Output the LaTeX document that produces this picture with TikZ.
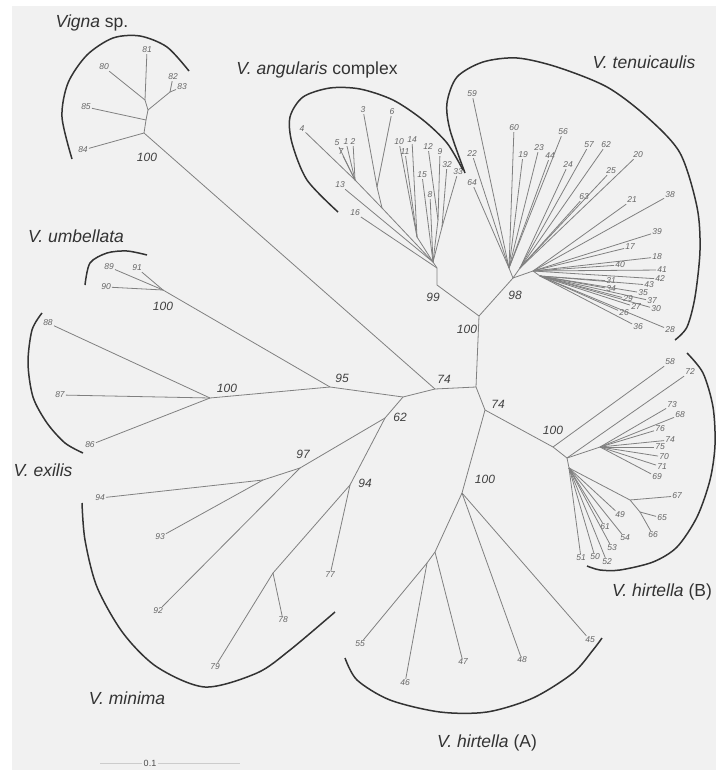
\documentclass[tikz,border=0pt]{standalone}
\usepackage{fontspec}
\setmainfont{Liberation Sans}
\definecolor{paper}{HTML}{F1F1F1}

\begin{document}
\begin{tikzpicture}[x=1pt, y=-1pt,
  branch/.style={black!50, line width=0.8pt},
  bracket/.style={black!80, line width=1.5pt},
  clade/.style={font=\fontsize{17.5}{20}\selectfont, text=black!80},
  boot/.style={font=\fontsize{12}{14}\selectfont\itshape, text=black!75},
  tip/.style={font=\fontsize{8.5}{10}\selectfont\itshape, text=black!60, inner sep=1pt}]
    \useasboundingbox (0,0) rectangle (716,770);
    \fill[white] (0,0) rectangle (716,770);
    \fill[paper] (12,6) rectangle (716,770);

    % Backbone
    \coordinate (c74) at (435,389);
    \coordinate (cR) at (476,387);
    \coordinate (c100) at (479,316);
    \coordinate (c99) at (437,285);
    \coordinate (aC) at (437,268);
    \coordinate (c98) at (513,278);
    \coordinate (cX) at (403,397);
    \coordinate (c95) at (330,387);
    \coordinate (c62) at (385,418);
    \coordinate (c97) at (300,468);
    \coordinate (cS) at (263,480);
    \coordinate (c94) at (350,485);
    \coordinate (cM) at (273,573);
    \coordinate (vig) at (144,133);
    \coordinate (umb) at (163,290);
    \coordinate (exi) at (210,398);
    \coordinate (c74b) at (485,410);
    \coordinate (hA) at (462,493);
    \coordinate (hA1) at (435,552);
    \coordinate (hA2) at (427,563);
    \coordinate (hB) at (553,447);
    \coordinate (hB2) at (567,458);
    \coordinate (hBf) at (600,447);
    \coordinate (hBd) at (569,468);
    \coordinate (hBg) at (630,500);
    \coordinate (hBh) at (640,512);

    \draw[branch] (vig) -- (c74) -- (cR) -- (c100) -- (c99) -- (aC);
    \draw[branch] (c100) -- (c98);
    \draw[branch] (c74) -- (cX) -- (c95) -- (umb);
    \draw[branch] (c95) -- (exi);
    \draw[branch] (cX) -- (c62) -- (c97) -- (cS);
    \draw[branch] (c62) -- (c94) -- (cM);
    \draw[branch] (cR) -- (c74b) -- (hA) -- (hA1) -- (hA2);
    \draw[branch] (c74b) -- (hB) -- (hB2) -- (hBf);
    \draw[branch] (hB2) -- (hBd) -- (hBg) -- (hBh);

    % Vigna sp.
    \coordinate (vig1) at (146,120);
    \coordinate (vig2) at (148,110);
    \coordinate (vig3) at (145,100);
    \coordinate (vig4) at (170,92);
    \draw[branch] (vig) -- (vig1) -- (vig2) -- (vig3);
    \draw[branch] (vig2) -- (vig4);
    \foreach \n/\x/\y/\p in {84/83/150/vig, 85/86/107/vig1, 80/104/67/vig3,
        81/147/50/vig3, 82/173/77/vig4, 83/182/87/vig4} {
      \node[tip] (lf\n) at (\x,\y) {\n};
      \draw[branch] (\p) -- (lf\n);
    }

    % V. angularis complex
    \coordinate (aB) at (433,262);
    \coordinate (a36j) at (382,208);
    \coordinate (a5j) at (355,180);
    \coordinate (a36) at (377,187);
    \coordinate (a10) at (417,237);
    \coordinate (a12) at (438,220);
    \coordinate (a32) at (442,227);
    \draw[branch] (aC) -- (aB) -- (a36j) -- (a5j);
    \draw[branch] (a36j) -- (a36);
    \draw[branch] (aB) -- (a10);
    \draw[branch] (aB) -- (a12);
    \draw[branch] (aB) -- (a32);
    \foreach \n/\x/\y/\p in {4/302/129/a5j, 5/337/143/a5j, 1/346/142/a5j,
        2/353/142/a5j, 7/341/152/a5j, 3/363/110/a36, 6/392/112/a36,
        13/340/185/aB, 16/355/213/aC, 10/399/142/a10, 14/412/140/a10,
        11/405/152/a10, 12/428/147/a12, 9/440/152/a12, 15/422/175/aB,
        8/430/195/aB, 32/447/165/a32, 33/458/172/a32} {
      \node[tip] (lf\n) at (\x,\y) {\n};
      \draw[branch] (\p) -- (lf\n);
    }

    % V. tenuicaulis
    \coordinate (t1) at (509,268);
    \coordinate (t2) at (533,271);
    \coordinate (t3) at (520,268);
    \coordinate (t4) at (540,276);
    \draw[branch] (c98) -- (t1);
    \draw[branch] (c98) -- (t3);
    \draw[branch] (c98) -- (t2) -- (t4);
    \foreach \n/\x/\y/\p in {59/472/94/t1, 60/514/128/t1, 22/472/154/t1,
        64/472/183/t1, 19/523/155/t1, 23/539/148/t1, 44/550/156/t1,
        56/563/132/t1, 24/568/165/t3, 57/589/145/t3, 62/606/145/t3,
        25/611/171/t3, 63/584/197/t3, 20/638/155/t3, 21/632/200/t2,
        38/670/195/t2, 39/657/232/t2, 17/630/247/t2, 18/657/257/t2,
        40/620/265/t2, 41/662/270/t2, 42/660/279/t2, 31/611/281/t4,
        34/611/289/t4, 43/649/285/t4, 35/643/293/t4, 29/628/299/t4,
        37/652/301/t4, 30/656/309/t4, 27/636/307/t4, 26/624/313/t4,
        36/638/327/t4, 28/670/330/t4} {
      \node[tip] (lf\n) at (\x,\y) {\n};
      \draw[branch] (\p) -- (lf\n);
    }

    % V. umbellata, V. exilis
    \foreach \n/\x/\y/\p in {89/109/267/umb, 91/137/268/umb, 90/106/287/umb,
        88/48/323/exi, 87/60/395/exi, 86/90/445/exi} {
      \node[tip] (lf\n) at (\x,\y) {\n};
      \draw[branch] (\p) -- (lf\n);
    }

    % V. minima
    \foreach \n/\x/\y/\p in {94/100/498/cS, 93/160/537/cS, 92/158/611/c97,
        77/330/575/c94, 78/283/620/cM, 79/215/667/cM} {
      \node[tip] (lf\n) at (\x,\y) {\n};
      \draw[branch] (\p) -- (lf\n);
    }

    % V. hirtella (A)
    \foreach \n/\x/\y/\p in {45/590/640/hA, 48/522/660/hA, 47/463/662/hA1,
        55/360/644/hA2, 46/405/683/hA2} {
      \node[tip] (lf\n) at (\x,\y) {\n};
      \draw[branch] (\p) -- (lf\n);
    }

    % V. hirtella (B)
    \foreach \n/\x/\y/\p in {58/670/362/hB, 72/690/372/hB2, 73/672/405/hBf,
        68/680/415/hBf, 76/660/429/hBf, 74/670/440/hBf, 75/660/447/hBf,
        70/664/457/hBf, 71/662/467/hBf, 69/657/477/hBf, 67/677/496/hBg,
        65/662/518/hBh, 66/653/535/hBh, 49/620/515/hBd, 61/605/527/hBd,
        54/625/538/hBd, 53/612/548/hBd, 51/581/558/hBd, 50/595/557/hBd,
        52/607/562/hBd} {
      \node[tip] (lf\n) at (\x,\y) {\n};
      \draw[branch] (\p) -- (lf\n);
    }

    % Bootstrap values
    \node[boot] (bVig) at (147,157) {100};
    \node[boot] (bUmb) at (163,306) {100};
    \node[boot] (bExi) at (227,388) {100};
    \node[boot] (b95) at (342,378) {95};
    \node[boot] (b74) at (444,379) {74};
    \node[boot] (b62) at (400,417) {62};
    \node[boot] (b97) at (303,454) {97};
    \node[boot] (b94) at (365,483) {94};
    \node[boot] (b99) at (433,297) {99};
    \node[boot] (b98) at (515,295) {98};
    \node[boot] (b100) at (467,329) {100};
    \node[boot] (b74b) at (498,404) {74};
    \node[boot] (bHB) at (553,430) {100};
    \node[boot] (bHA) at (485,479) {100};

    % Brackets
    \draw[bracket] plot[smooth] coordinates {(72,159) (62,117) (68,83) (87,55)
        (113,38) (140,36) (167,47) (189,71)};
    \draw[bracket] plot[smooth] coordinates {(338,212) (307,180) (292,143)
        (290,117) (303,97) (330,88) (360,89) (393,100) (423,120) (447,143) (463,170)};
    \draw[bracket] plot[smooth] coordinates {(465,173) (450,130) (447,103)
        (457,77) (483,62) (517,58) (557,67) (607,87) (647,117) (680,153)
        (697,207) (700,250) (695,297) (687,327) (675,340)};
    \draw[bracket] plot[smooth] coordinates {(85,285) (90,263) (107,253)
        (127,251) (147,255)};
    \draw[bracket] plot[smooth] coordinates {(42,313) (32,330) (28,363)
        (33,397) (47,423) (65,443) (83,453)};
    \draw[bracket] plot[smooth] coordinates {(82,503) (85,540) (97,587)
        (123,633) (157,667) (205,687) (257,673) (290,650) (335,612)};
    \draw[bracket] plot[smooth] coordinates {(345,658) (357,680) (390,700)
        (440,712) (487,712) (533,698) (573,673) (593,650) (602,638)};
    \draw[bracket] plot[smooth] coordinates {(687,353) (703,373) (713,407)
        (715,445) (710,480) (697,517) (677,547) (653,562) (620,570)
        (600,570) (587,566)};

    % Clade names
    \node[clade] (nVig) at (92,23) {\textit{Vigna} sp.};
    \node[clade] (nAng) at (317,70) {\textit{V. angularis} complex};
    \node[clade] (nTen) at (644,62) {\textit{V. tenuicaulis}};
    \node[clade] (nUmb) at (76,236) {\textit{V. umbellata}};
    \node[clade] (nExi) at (43,470) {\textit{V. exilis}};
    \node[clade] (nMin) at (127,698) {\textit{V. minima}};
    \node[clade] (nHA) at (487,743) {\textit{V. hirtella} (A)};
    \node[clade] (nHB) at (662,592) {\textit{V. hirtella} (B)};

    % Scale bar
    \coordinate (sbL) at (100,763);
    \coordinate (sbR) at (240,763);
    \node[font=\fontsize{9}{10}\selectfont, text=black!70, inner sep=2pt] (sbLab) at (150,763) {0.1};
    \draw[black!20, line width=0.6pt] (sbL) -- (sbLab);
    \draw[black!20, line width=0.6pt] (sbLab) -- (sbR);
\end{tikzpicture}
\end{document}
